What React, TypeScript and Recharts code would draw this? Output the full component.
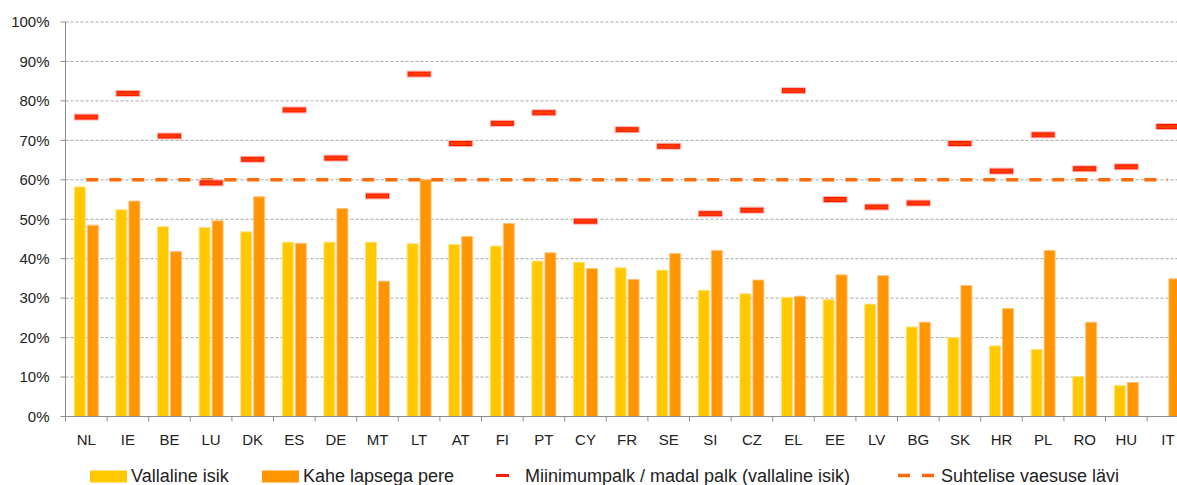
import { ComposedChart, Bar, Scatter, XAxis, YAxis, CartesianGrid, ReferenceLine } from "recharts"

// Countries, in the order they appear on the x axis
const countries = [
  "NL", "IE", "BE", "LU", "DK", "ES", "DE", "MT", "LT", "AT", "FI", "PT", "CY", "FR",
  "SE", "SI", "CZ", "EL", "EE", "LV", "BG", "SK", "HR", "PL", "RO", "HU", "IT",
]

// Vallaline isik (%)
const singlePerson = [
  58.2, 52.4, 48.1, 47.9, 46.8, 44.2, 44.2, 44.2, 43.8, 43.6, 43.2, 39.4, 39.1, 37.7,
  37.1, 32.0, 31.1, 30.2, 29.6, 28.5, 22.7, 20.0, 17.9, 17.0, 10.1, 7.9, null,
]

// Kahe lapsega pere (%)
const twoChildFamily = [
  48.5, 54.6, 41.8, 49.6, 55.7, 43.9, 52.7, 34.3, 60.0, 45.6, 48.9, 41.5, 37.5, 34.7,
  41.3, 42.1, 34.6, 30.5, 35.9, 35.7, 23.9, 33.2, 27.4, 42.1, 23.9, 8.6, 34.9,
]

// Miinimumpalk / madal palk (vallaline isik) (%)
const minimumWage = [
  75.9, 81.9, 71.1, 59.2, 65.2, 77.7, 65.5, 55.9, 86.8, 69.2, 74.3, 77.0, 49.5, 72.7,
  68.5, 51.4, 52.3, 82.6, 55.0, 53.1, 54.1, 69.2, 62.2, 71.4, 62.8, 63.3, 73.5,
]

const povertyLine = 60
const yTicks = [0, 10, 20, 30, 40, 50, 60, 70, 80, 90, 100]

const FONT = '"Liberation Sans", Arial, sans-serif'
const CHART_W = 1200
const CHART_H = 485
const MARGIN = { top: 22, right: 11.3, left: 5.5, bottom: 38.5 }
const Y_AXIS_W = 60
const X_AXIS_H = 30
const PLOT_LEFT = MARGIN.left + Y_AXIS_W
const PLOT_RIGHT = CHART_W - MARGIN.right
const PLOT_BOTTOM = CHART_H - MARGIN.bottom - X_AXIS_H
const BAND = (PLOT_RIGHT - PLOT_LEFT) / countries.length

const data = countries.map((country, i) => ({
  country,
  single: singlePerson[i],
  family: twoChildFamily[i],
  wage: minimumWage[i],
}))

function CountryTick(props: any) {
  const { x, payload } = props
  const bx = x - BAND / 2
  return (
    <g>
      <line x1={bx} x2={bx} y1={PLOT_BOTTOM} y2={PLOT_BOTTOM + 5} stroke="#8c8c8c" />
      <text x={x} y={PLOT_BOTTOM + 28.5} textAnchor="middle" fontSize={15} fontFamily={FONT} fill="#222">
        {payload.value}
      </text>
    </g>
  )
}

function WageMarker(props: any) {
  const { cx, cy } = props
  if (cx == null || cy == null) return null
  return (
    <g>
      <rect x={cx - 12} y={cy - 3} width={24} height={6} fill="none" stroke="#FFB8AC" strokeWidth={1} />
      <rect x={cx - 11} y={cy - 2} width={22} height={4} fill="#FF3A00" stroke="#FF1200" strokeWidth={1} />
    </g>
  )
}

function LegendRow() {
  const textProps = { fontSize: 18, fontFamily: FONT, fill: "#222" }
  return (
    <svg width={1177} height={485} style={{ position: "absolute", left: 0, top: 0, pointerEvents: "none" }}>
      <rect x={90} y={470.5} width={37} height={12} fill="#FFC800" />
      <text x={131} y={482} {...textProps}>Vallaline isik</text>
      <rect x={262} y={470.5} width={37} height={12} fill="#FF9500" />
      <text x={303} y={482} {...textProps}>Kahe lapsega pere</text>
      <rect x={496} y={474} width={13} height={3} fill="#FF1A00" />
      <text x={525} y={482} {...textProps}>Miinimumpalk / madal palk (vallaline isik)</text>
      <line x1={898} x2={934} y1={475.5} y2={475.5} stroke="#FF6A0D" strokeWidth={3.5} strokeDasharray="12 12" />
      <text x={941} y={482} {...textProps}>Suhtelise vaesuse lävi</text>
    </svg>
  )
}

export default function App() {
  return (
    <div style={{ position: "absolute", left: 0, top: 0, width: 1177, height: 485, overflow: "hidden", background: "#fff" }}>
      <ComposedChart
        width={CHART_W}
        height={CHART_H}
        data={data}
        margin={MARGIN}
        barCategoryGap={8.8}
        barGap={2}
      >
        <CartesianGrid vertical={false} stroke="#a6a6a6" strokeDasharray="3 2" />
        <XAxis
          dataKey="country"
          interval={0}
          height={X_AXIS_H}
          tickLine={false}
          axisLine={{ stroke: "#8c8c8c" }}
          tick={<CountryTick />}
        />
        <YAxis
          width={Y_AXIS_W}
          domain={[0, 100]}
          ticks={yTicks}
          interval={0}
          tickFormatter={(v) => `${v}%`}
          axisLine={{ stroke: "#8c8c8c" }}
          tickLine={{ stroke: "#8c8c8c" }}
          tickSize={5}
          tickMargin={11}
          tick={{ fontSize: 15, fontFamily: FONT, fill: "#222" }}
        />
        <Bar dataKey="single" fill="#FFC800" stroke="#FFE27A" strokeWidth={1} isAnimationActive={false} />
        <Bar dataKey="family" fill="#FF9500" stroke="#FFC27A" strokeWidth={1} isAnimationActive={false} />
        <ReferenceLine
          segment={[
            { x: countries[0], y: povertyLine },
            { x: countries[countries.length - 1], y: povertyLine },
          ]}
          stroke="#FF6A0D"
          strokeWidth={3.5}
          strokeDasharray="12 11"
        />
        <Scatter dataKey="wage" shape={<WageMarker />} isAnimationActive={false} />
      </ComposedChart>
      <LegendRow />
    </div>
  )
}
